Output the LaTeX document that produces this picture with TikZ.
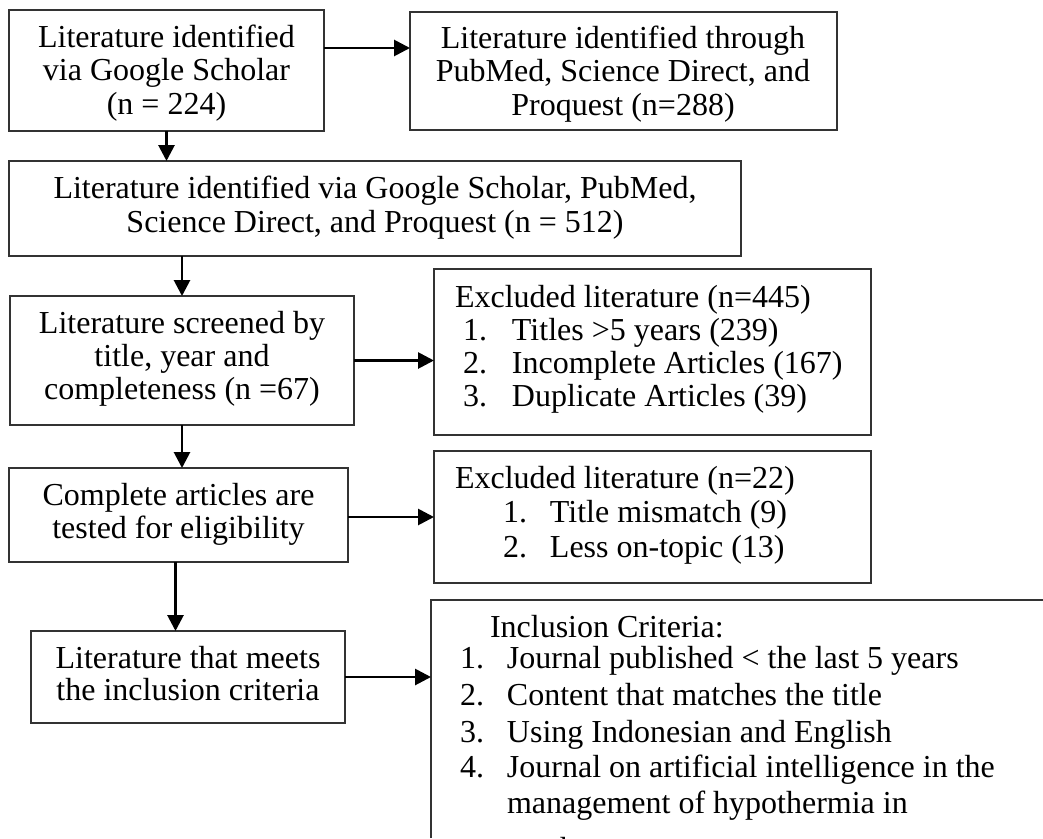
\documentclass[tikz,border=0pt]{standalone}
\usepackage{fontspec}
\setmainfont{Liberation Serif}
\usetikzlibrary{arrows.meta,calc}
\begin{document}
\begin{tikzpicture}[x=1pt,y=-1pt,
  box/.style={draw=black!80, line width=1.4pt, inner sep=0pt, outer sep=0pt, anchor=north west},
  txt/.style={inner sep=0pt, outer sep=0pt, text=black},
  arr/.style={draw=black, line width=2.8pt, -{Triangle[length=16pt,width=16pt]}}]
\path[use as bounding box] (0,0) rectangle (1043,838);
\fill[white] (0,0) rectangle (1043,838);
\newcommand{\fst}{\rule{0pt}{24pt}}
% boxes
\node[box, minimum width=315pt, minimum height=121pt] (A) at (9,10) {};
\node[box, minimum width=427pt, minimum height=118pt] (B) at (410,12) {};
\node[box, minimum width=732pt, minimum height=95pt] (C) at (9,161) {};
\node[box, minimum width=344pt, minimum height=129pt] (D) at (10,296) {};
\node[box, minimum width=437pt, minimum height=166pt] (E) at (434,269) {};
\node[box, minimum width=339pt, minimum height=94pt] (F) at (9,468) {};
\node[box, minimum width=437pt, minimum height=132pt] (G) at (434,451) {};
\node[box, minimum width=314pt, minimum height=92pt] (H) at (31,631) {};
\node[box, draw=none, minimum width=612pt, minimum height=238pt] (I) at (431,600) {};
\draw[draw=black!80, line width=1.4pt] (I.south west) -- (I.north west) -- (I.north east);
% texts
\node[txt, anchor=north, align=center, font=\fontsize{32}{33.5}\selectfont] (tA) at (166.5,23)
  {\fst Literature identified\\via Google Scholar\\(n = 224)};
\node[txt, anchor=north, align=center, font=\fontsize{32}{33.5}\selectfont] (tB) at (623,24)
  {\fst Literature identified through\\PubMed, Science Direct, and\\Proquest (n=288)};
\node[txt, anchor=north, align=center, font=\fontsize{32}{34}\selectfont] (tC) at (375,174)
  {\fst Literature identified via Google Scholar, PubMed,\\Science Direct, and Proquest (n = 512)};
\node[txt, anchor=north, align=center, font=\fontsize{32}{33}\selectfont] (tD) at (182,309)
  {\fst Literature screened by\\title, year and\\completeness (n =67)};
\node[txt, anchor=north west, align=left, font=\fontsize{32}{33.3}\selectfont] (tE) at (455,283)
  {\fst Excluded literature (n=445)\\
   \hspace*{8pt}\makebox[49pt][l]{1.}Titles >5 years (239)\\
   \hspace*{8pt}\makebox[49pt][l]{2.}Incomplete Articles (167)\\
   \hspace*{8pt}\makebox[49pt][l]{3.}Duplicate Articles (39)};
\node[txt, anchor=north west, align=left, font=\fontsize{32}{34.5}\selectfont] (tG) at (455,464)
  {\fst Excluded literature (n=22)\\
   \hspace*{48pt}\makebox[47pt][l]{1.}Title mismatch (9)\\
   \hspace*{48pt}\makebox[47pt][l]{2.}Less on-topic (13)};
\node[txt, anchor=north, align=center, font=\fontsize{32}{33}\selectfont] (tF) at (178.5,481)
  {\fst Complete articles are\\tested for eligibility};
\node[txt, anchor=north, align=center, font=\fontsize{32}{32}\selectfont] (tH) at (188,644)
  {\fst Literature that meets\\the inclusion criteria};
\begin{scope}
\clip (0,0) rectangle (1043,838);
\node[txt, anchor=north west, align=left, font=\fontsize{32}{35.5}\selectfont] (tI) at (460,613)
  {\fst\hspace*{30pt}Inclusion Criteria:\\[-4.5pt]
   \makebox[47pt][l]{1.}Journal published < the last 5 years\\[1.5pt]
   \makebox[47pt][l]{2.}Content that matches the title\\[1.5pt]
   \makebox[47pt][l]{3.}Using Indonesian and English\\
   \makebox[47pt][l]{4.}Journal on artificial intelligence in the\\
   \hspace*{47pt}management of hypothermia in\\[11pt]
   \hspace*{47pt}newborns};
\end{scope}
% connectors
\draw[arr] ([yshift=22.5pt]A.east) -- ([yshift=22.5pt]A.east -| B.west);
\draw[arr] (A.south) -- (A.south |- C.north);
\draw[arr] (C.south -| D.north) -- (D.north);
\draw[arr] (D.east) -- (D.east -| E.west);
\draw[arr] (D.south) -- (D.south |- F.north);
\draw[arr] ([yshift=-2pt]F.east) -- ([yshift=-2pt]F.east -| G.west);
\draw[arr] ([xshift=-3pt]F.south) -- ([xshift=-3pt]F.south |- H.north);
\draw[arr] (H.east) -- (H.east -| I.west);
\end{tikzpicture}
\end{document}
